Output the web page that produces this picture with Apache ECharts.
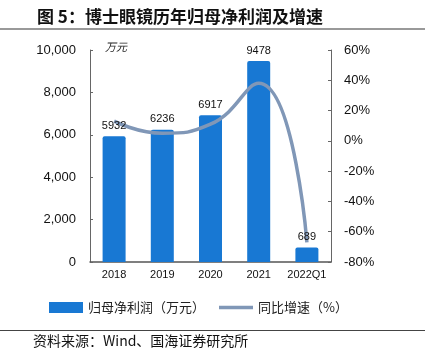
<!DOCTYPE html>
<html><head><meta charset="utf-8">
<script src="https://cdn.jsdelivr.net/npm/echarts@6/dist/echarts.min.js"></script>
<style>html,body{margin:0;padding:0;background:#fff}#c{width:425px;height:356px}</style>
</head><body><div id="c"></div>
<script>
const categories = ['2018','2019','2020','2021','2022Q1'];
const profit = [5932, 6236, 6917, 9478, 689];
const growth = [13, 5, 11, 38, -67];
const leftTicks = [0, 10000, 2000];
const rightTicks = [-80, 60, 20];

const cjk = '"Noto Sans CJK SC", sans-serif';
const num = '"Liberation Sans", Arial, sans-serif';
const chart = echarts.init(document.getElementById('c'));
chart.setOption({
  animation: false,
  title: {
    text: '图 5：博士眼镜历年归母净利润及增速',
    left: 32, top: 3,
    textStyle: {fontFamily: cjk, fontSize: 17, fontWeight: 'bold', color: '#111'}
  },
  graphic: [
    {type: 'rect', shape: {x: 0, y: 28, width: 425, height: 2}, style: {fill: '#999'}},
    {type: 'rect', shape: {x: 0, y: 330, width: 425, height: 1}, style: {fill: '#444'}},
    {type: 'text', left: 33, top: 334, style: {text: '资料来源：Wind、国海证券研究所', font: '14px ' + cjk, fill: '#111'}},
    {type: 'text', left: 105, top: 41, style: {text: '万元', font: 'italic 11px ' + cjk, fill: '#222'}}
  ],
  legend: {
    top: 296, left: 44,
    itemGap: 14,
    textStyle: {fontFamily: cjk, fontSize: 13, color: '#222'},
    data: [
      {name: '归母净利润（万元）', icon: 'rect', itemStyle: {color: '#1878D3'}},
      {name: '同比增速（%）', icon: 'path://M0,0H100V11H0Z', itemStyle: {color: '#8097B7'}}
    ],
    itemWidth: 34, itemHeight: 11
  },
  grid: {left: 90, right: 94, top: 50, bottom: 94},
  xAxis: {
    type: 'category', data: categories,
    axisLine: {lineStyle: {color: '#555', width: 1.5}},
    axisTick: {inside: true, length: 3, lineStyle: {color: '#555'}},
    axisLabel: {interval: 0, fontFamily: num, fontSize: 11, color: '#111', margin: 7}
  },
  yAxis: [
    {type: 'value', min: leftTicks[0], max: leftTicks[1], interval: leftTicks[2],
     splitLine: {show: false},
     axisLine: {show: true, lineStyle: {color: '#666'}},
     axisTick: {show: true, inside: true, length: 3, lineStyle: {color: '#666'}},
     axisLabel: {fontFamily: num, fontSize: 13, color: '#111', margin: 14,
       formatter: v => v.toLocaleString('en-US')}},
    {type: 'value', min: rightTicks[0], max: rightTicks[1], interval: rightTicks[2],
     splitLine: {show: false},
     axisLine: {show: true, lineStyle: {color: '#666'}},
     axisTick: {show: true, inside: true, length: 3, lineStyle: {color: '#666'}},
     axisLabel: {fontFamily: num, fontSize: 13, color: '#111', margin: 13,
       formatter: v => v + '%'}}
  ],
  series: [
    {name: '归母净利润（万元）', type: 'bar', data: profit, barWidth: 23, z: 2,
     itemStyle: {color: '#1878D3', borderRadius: [2,2,0,0]}},
    {name: '同比增速（%）', type: 'line', yAxisIndex: 1, data: growth, smooth: 0.5,
     showSymbol: false, symbol: 'none', z: 3,
     lineStyle: {color: '#8097B7', width: 3.5}, itemStyle: {color: '#8097B7'}},
    {name: 'labels', type: 'bar', data: profit, barWidth: 23, barGap: '-100%', z: 4,
     silent: true, itemStyle: {color: 'rgba(0,0,0,0)'},
     label: {show: true, position: 'top', distance: 5, fontFamily: num, fontSize: 11, color: '#111'}}
  ]
});
</script></body></html>
